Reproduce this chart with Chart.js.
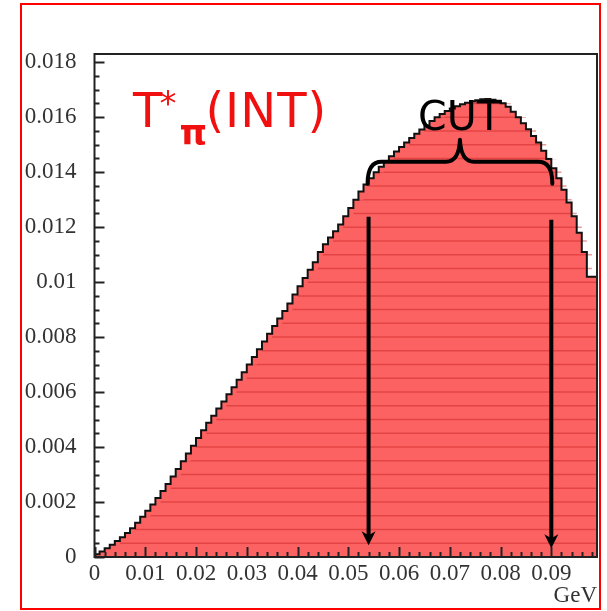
<!DOCTYPE html>
<html>
<head>
<meta charset="utf-8">
<script src="https://cdn.jsdelivr.net/npm/chart.js@4.4.1/dist/chart.umd.min.js"></script>
<style>
    html, body { margin: 0; padding: 0; background: #fff; }
    #wrap  { position: relative; width: 607px; height: 611px; }
    #frame { position: absolute; left: 20px; top: 3px; width: 581px; height: 607px;
             border: 2px solid #f00; box-sizing: border-box; pointer-events: none; }
    canvas { position: absolute; left: 0; top: 0; }
</style>
</head>
<body>
<div id="wrap">
    <canvas id="histChart" width="607" height="611"></canvas>
    <div id="frame"></div>
</div>
<script>
(function () {
    "use strict";

    // histogram: 99 bins of 1 MeV starting at 0 GeV
    const binStart = 0;
    const binWidth = 0.001;
    const binValues = [
        0.00003, 0.00010, 0.00020, 0.00032, 0.00045, 0.00058, 0.00072, 0.00087, 0.00105, 0.00125,
        0.00146, 0.00168, 0.00191, 0.00215, 0.00240, 0.00266, 0.00293, 0.00320, 0.00348, 0.00377,
        0.00405, 0.00433, 0.00461, 0.00488, 0.00514, 0.00540, 0.00566, 0.00592, 0.00618, 0.00645,
        0.00672, 0.00700, 0.00728, 0.00756, 0.00784, 0.00812, 0.00840, 0.00868, 0.00895, 0.00922,
        0.00955, 0.00985, 0.01015, 0.01045, 0.01072, 0.01110, 0.01138, 0.01162, 0.01185, 0.01210,
        0.01240, 0.01270, 0.01300, 0.01330, 0.01355, 0.01378, 0.01400, 0.01420, 0.01440, 0.01458,
        0.01475, 0.01492, 0.01508, 0.01524, 0.01540, 0.01555, 0.01570, 0.01586, 0.01600, 0.01612,
        0.01623, 0.01632, 0.01640, 0.01647, 0.01653, 0.01658, 0.01662, 0.01665, 0.01666, 0.01664,
        0.01660, 0.01651, 0.01638, 0.01620, 0.01600, 0.01578, 0.01556, 0.01532, 0.01508, 0.01478,
        0.01448, 0.01414, 0.01378, 0.01336, 0.01290, 0.01240, 0.01180, 0.01110, 0.01020
    ];

    const xTickValues = [0, 0.01, 0.02, 0.03, 0.04, 0.05, 0.06, 0.07, 0.08, 0.09];
    const yTickValues = [0, 0.002, 0.004, 0.006, 0.008, 0.01, 0.012, 0.014, 0.016, 0.018];
    const xRange = [0, 0.099];
    const yRange = [0, 0.0183];

    const xUnit = "GeV";
    const titleText = { main: "T", sup: "*", sub: "\u03c0", tail: "(INT)" };
    const cutText = "CUT";
    const cutLow  = 0.054;
    const cutHigh = 0.09;

    const serif = "'Liberation Serif', 'DejaVu Serif', serif";
    const hand  = "'DejaVu Sans', sans-serif";

    function fmtTick(v) {
        return String(parseFloat(Number(v).toFixed(4)));
    }

    const points = binValues.map((v, i) => ({ x: binStart + i * binWidth, y: v }));
    points.push({ x: binStart + binValues.length * binWidth, y: binValues[binValues.length - 1] });

    // faint horizontal banding inside the filled area
    const bandPlugin = {
        id: "bands",
        beforeDatasetDraw(chart, args) {
            const pts = args.meta.data;
            const xs = chart.scales.x, ys = chart.scales.y;
            const y0 = ys.getPixelForValue(0);
            const ctx = chart.ctx;
            ctx.save();
            ctx.beginPath();
            ctx.moveTo(pts[0].x, y0);
            for (let i = 0; i < pts.length; i++) {
                ctx.lineTo(pts[i].x, pts[i].y);
                if (i + 1 < pts.length) ctx.lineTo(pts[i + 1].x, pts[i].y);
            }
            ctx.lineTo(pts[pts.length - 1].x, y0);
            ctx.closePath();
            ctx.clip();
            ctx.strokeStyle = "rgba(200,30,30,0.45)";
            ctx.lineWidth = 1.5;
            for (let k = 1; k * 0.0005 < yRange[1]; k++) {
                const y = ys.getPixelForValue(k * 0.0005);
                ctx.beginPath();
                ctx.moveTo(xs.left, y);
                ctx.lineTo(xs.right, y);
                ctx.stroke();
            }
            ctx.restore();
        }
    };

    function arrow(ctx, x, yTop, yTip) {
        ctx.beginPath();
        ctx.moveTo(x, yTop);
        ctx.lineTo(x, yTip - 8);
        ctx.stroke();
        ctx.beginPath();
        ctx.moveTo(x, yTip);
        ctx.lineTo(x - 7, yTip - 14);
        ctx.lineTo(x, yTip - 10);
        ctx.lineTo(x + 7, yTip - 14);
        ctx.closePath();
        ctx.fill();
    }

    const decorPlugin = {
        id: "decor",
        afterDraw(chart) {
            const ctx = chart.ctx;
            const a = chart.chartArea;
            const xs = chart.scales.x, ys = chart.scales.y;
            const px = v => xs.getPixelForValue(v);
            const py = v => ys.getPixelForValue(v);

            ctx.save();
            // plot frame
            ctx.strokeStyle = "#222";
            ctx.lineWidth = 2;
            ctx.strokeRect(a.left, a.top, a.right - a.left, a.bottom - a.top);

            // inward tick marks
            ctx.lineWidth = 2;
            for (let k = 0; k * 0.0005 <= yRange[1]; k++) {
                const y = Math.round(py(k * 0.0005)) + 0.5;
                const len = k % 4 === 0 ? 10 : 5;
                ctx.beginPath();
                ctx.moveTo(a.left, y);
                ctx.lineTo(a.left + len, y);
                ctx.stroke();
            }
            for (let k = 0; k * 0.002 <= xRange[1]; k++) {
                const x = Math.round(px(k * 0.002)) + 0.5;
                const len = k % 5 === 0 ? 10 : 5;
                ctx.beginPath();
                ctx.moveTo(x, a.bottom);
                ctx.lineTo(x, a.bottom - len);
                ctx.stroke();
            }

            // cut arrows
            ctx.strokeStyle = "#000";
            ctx.fillStyle = "#000";
            ctx.lineWidth = 4;
            arrow(ctx, px(cutLow), py(0.01238), py(0.00043));
            arrow(ctx, px(cutHigh), py(0.01227), py(0.00032));

            // curly brace over the cut window
            const bl = px(cutLow) - 1, br = px(cutHigh) + 1;
            const bm = (bl + br) / 2;
            const by = py(0.01438), bEnd = py(0.01358), bTip = py(0.01518);
            ctx.lineCap = "round";
            ctx.lineJoin = "round";
            ctx.beginPath();
            ctx.moveTo(bl, bEnd);
            ctx.quadraticCurveTo(bl, by, bl + 14, by);
            ctx.lineTo(bm - 14, by);
            ctx.quadraticCurveTo(bm - 1, by, bm, bTip);
            ctx.quadraticCurveTo(bm + 1, by, bm + 14, by);
            ctx.lineTo(br - 14, by);
            ctx.quadraticCurveTo(br, by, br, bEnd);
            ctx.stroke();

            // CUT label
            ctx.font = "41px " + hand;
            ctx.textAlign = "center";
            ctx.textBaseline = "alphabetic";
            ctx.fillText(cutText, bm, py(0.01555));

            // red title T*_pi(INT)
            ctx.fillStyle = "#f01010";
            ctx.textAlign = "left";
            const tx = px(0.0076), tBase = py(0.01565);
            ctx.font = "48px " + hand;
            ctx.fillText(titleText.main, tx, tBase);
            const wT = ctx.measureText(titleText.main).width;
            ctx.font = "34px " + hand;
            ctx.fillText(titleText.sup, tx + wT - 3, tBase - 12);
            ctx.font = "bold 35px " + hand;
            ctx.fillText(titleText.sub, tx + wT + 17, tBase + 18);
            ctx.font = "48px " + hand;
            ctx.letterSpacing = "1px";
            ctx.fillText(titleText.tail, tx + wT + 43, tBase);
            ctx.restore();
        }
    };

    const tickFont = { family: serif, size: 23 };

    function renderChart() {
        const ctx = document.getElementById("histChart").getContext("2d");
        new Chart(ctx, {
            type: "line",
            data: {
                datasets: [{
                    data: points,
                    stepped: "after",
                    borderColor: "#111",
                    borderWidth: 2,
                    backgroundColor: "rgb(252,98,98)",
                    fill: "origin",
                    pointRadius: 0,
                    tension: 0
                }]
            },
            options: {
                responsive: false,
                animation: false,
                devicePixelRatio: 1,
                layout: { padding: { top: 54, right: 10, left: 0, bottom: 0 } },
                plugins: { legend: { display: false }, tooltip: { enabled: false } },
                scales: {
                    x: {
                        type: "linear",
                        min: xRange[0],
                        max: xRange[1],
                        afterBuildTicks: s => { s.ticks = xTickValues.map(v => ({ value: v })); },
                        afterFit: s => { s.height = 54; },
                        grid: { display: false, drawTicks: false },
                        border: { display: false },
                        ticks: {
                            font: tickFont, color: "#333", padding: 3,
                            maxRotation: 0, autoSkip: false,
                            callback: v => fmtTick(v)
                        },
                        title: {
                            display: true, text: xUnit, align: "end",
                            font: tickFont, color: "#333",
                            padding: { top: 0, bottom: 1 }
                        }
                    },
                    y: {
                        type: "linear",
                        min: yRange[0],
                        max: yRange[1],
                        afterBuildTicks: s => { s.ticks = yTickValues.map(v => ({ value: v })); },
                        afterFit: s => { s.width = 94.5; },
                        grid: { display: false, drawTicks: false },
                        border: { display: false },
                        ticks: {
                            font: tickFont, color: "#333", padding: 18,
                            autoSkip: false,
                            callback: v => fmtTick(v)
                        }
                    }
                }
            },
            plugins: [bandPlugin, decorPlugin]
        });
    }

    renderChart();
})();
</script>
</body>
</html>
